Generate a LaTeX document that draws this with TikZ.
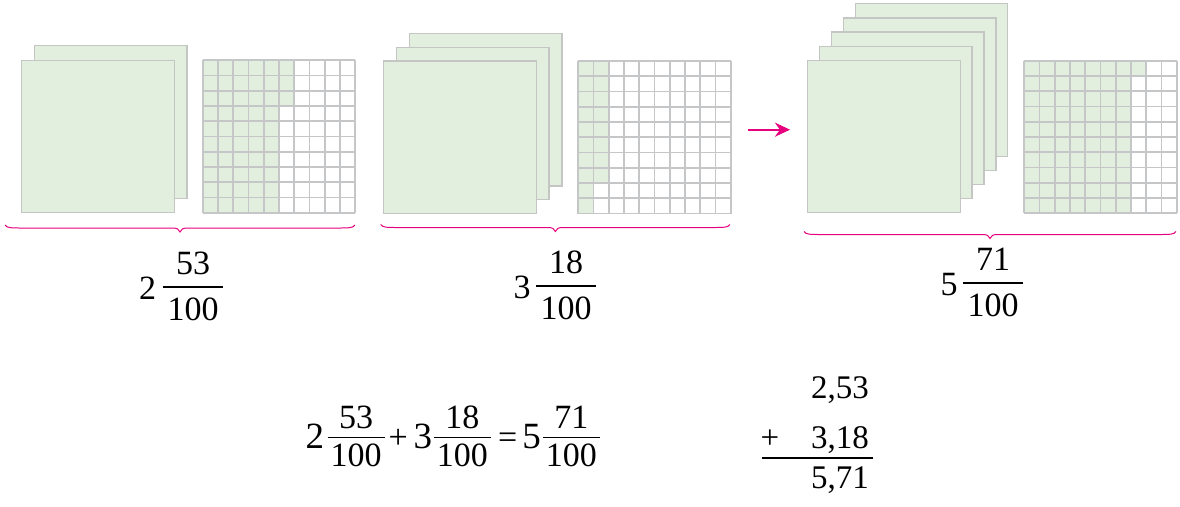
\documentclass[tikz,border=0pt]{standalone}
\usepackage{fontspec}
\setmainfont{Liberation Serif}
\usetikzlibrary{arrows.meta}
\definecolor{sheetgreen}{HTML}{E3EFDE}
\definecolor{sheetline}{HTML}{C4C6C4}
\definecolor{gridgray}{HTML}{C4C6C8}
\definecolor{bracepink}{HTML}{E6007E}

% 10x10 grid: left, top, full columns, cells in next column
\newcommand{\hundredgrid}[4]{%
    \fill[sheetgreen] (#1,#2) rectangle ++(#3*15.25,152.5);
    \fill[sheetgreen] (#1+#3*15.25,#2) rectangle ++(15.25,#4*15.25);
    \foreach \i in {0,...,10} {
        \draw[gridline] (#1+\i*15.25,#2) -- ++(0,152.5);
        \draw[gridline] (#1,#2+\i*15.25) -- ++(152.5,0);
    }}
% flat brace: left, right, top of the ends
\newcommand{\flatbrace}[3]{%
    \draw[pinkbrace] (#1,#3) .. controls (#1+2,#3+3) and (#1+6,#3+3) .. (#1+15,#3+3)
        -- (#1/2+#2/2-8,#3+3) .. controls (#1/2+#2/2-3,#3+3) and (#1/2+#2/2-1,#3+4) .. (#1/2+#2/2,#3+7)
        .. controls (#1/2+#2/2+1,#3+4) and (#1/2+#2/2+3,#3+3) .. (#1/2+#2/2+8,#3+3)
        -- (#2-15,#3+3) .. controls (#2-6,#3+3) and (#2-2,#3+3) .. (#2,#3);}
% fraction sizes: bar width, bar height, numerator rise, denominator drop
\newcommand{\fracdims}[4]{\def\barw{#1}\def\barup{#2}\def\numup{#3}\def\dendown{#4}}
% mixed number: name, left, baseline, bar left, whole, numerator, denominator
\newcommand{\mixednum}[7]{%
    \node[wholetext] (#1w) at (#2,#3) {#5};
    \draw[fracbar] (#4,#3-\barup) -- (#4+\barw,#3-\barup);
    \node[fractext] (#1n) at (#4+\barw/2,#3-\numup) {#6};
    \node[fractext] (#1d) at (#4+\barw/2,#3+\dendown) {#7};}

\begin{document}
\begin{tikzpicture}[
    x=1pt, y=-1pt,
    sheet/.style={draw=sheetline, fill=sheetgreen, line width=1.3pt},
    gridline/.style={draw=gridgray, line width=1.8pt},
    pinkbrace/.style={draw=bracepink, line width=1pt},
    wholetext/.style={inner sep=0pt, anchor=base west, font=\fontsize{34}{34}\selectfont},
    fractext/.style={inner sep=0pt, anchor=base, font=\fontsize{34}{34}\selectfont},
    fracbar/.style={line width=1.3pt},
    coltext/.style={inner sep=0pt, anchor=base east, font=\fontsize{33}{33}\selectfont}
]
    \useasboundingbox (0,0) rectangle (1180,506);

    % 2 wholes and 53 hundredths
    \foreach \k in {1,0}
        \draw[sheet] (21.7+\k*12.7,60.3-\k*14.6) rectangle ++(152.5,152.5);
    \hundredgrid{202.7}{60.3}{5}{3}
    \flatbrace{5}{355}{225}

    % 3 wholes and 18 hundredths
    \foreach \k in {2,1,0}
        \draw[sheet] (383.7+\k*12.9,61-\k*13.8) rectangle ++(152.5,152.5);
    \hundredgrid{578.3}{61}{1}{8}
    \flatbrace{380.7}{730}{224.5}

    % arrow
    \coordinate (arrstart) at (748,129.7);
    \coordinate (arrend) at (790,129.7);
    \draw[bracepink, line width=2pt, -{Stealth[length=15pt, width=14pt]}] (arrstart) -- (arrend);

    % 5 wholes and 71 hundredths
    \foreach \k in {4,3,2,1,0}
        \draw[sheet] (807.7+\k*11.9,60.3-\k*14.15) rectangle ++(152.5,152.5);
    \hundredgrid{1024.3}{60.7}{7}{1}
    \flatbrace{804}{1176}{231.5}

    % mixed numbers under the braces
    \fracdims{59.5}{12}{25}{21}
    \mixednum{first}{139}{299}{163.3}{2}{53}{100}
    \mixednum{second}{513.5}{298}{536.4}{3}{18}{100}
    \mixednum{total}{940.5}{295}{963.3}{5}{71}{100}

    % sum
    \fracdims{57}{11}{20}{18.4}
    \tikzset{wholetext/.append style={font=\fontsize{37}{37}\selectfont}}
    \mixednum{suma}{305.5}{448.3}{327.5}{2}{53}{100}
    \node[fractext] (plussign) at (398.2,448.3) {+};
    \mixednum{sumb}{413.3}{448.3}{433.9}{3}{18}{100}
    \node[fractext] (eqsign) at (507.7,448.3) {=};
    \mixednum{sumc}{522.2}{448.3}{542.9}{5}{71}{100}

    % column addition
    \node[coltext] (top) at (869,398.3) {2,53};
    \node[coltext] (bottom) at (869,448.3) {3,18};
    \node[coltext, anchor=base west] (plus) at (760.5,448.3) {+};
    \node[coltext] (result) at (869,488.3) {5,71};
    \draw[line width=2pt] (761.7,458.3) -- (873.3,458.3);

\end{tikzpicture}
\end{document}
